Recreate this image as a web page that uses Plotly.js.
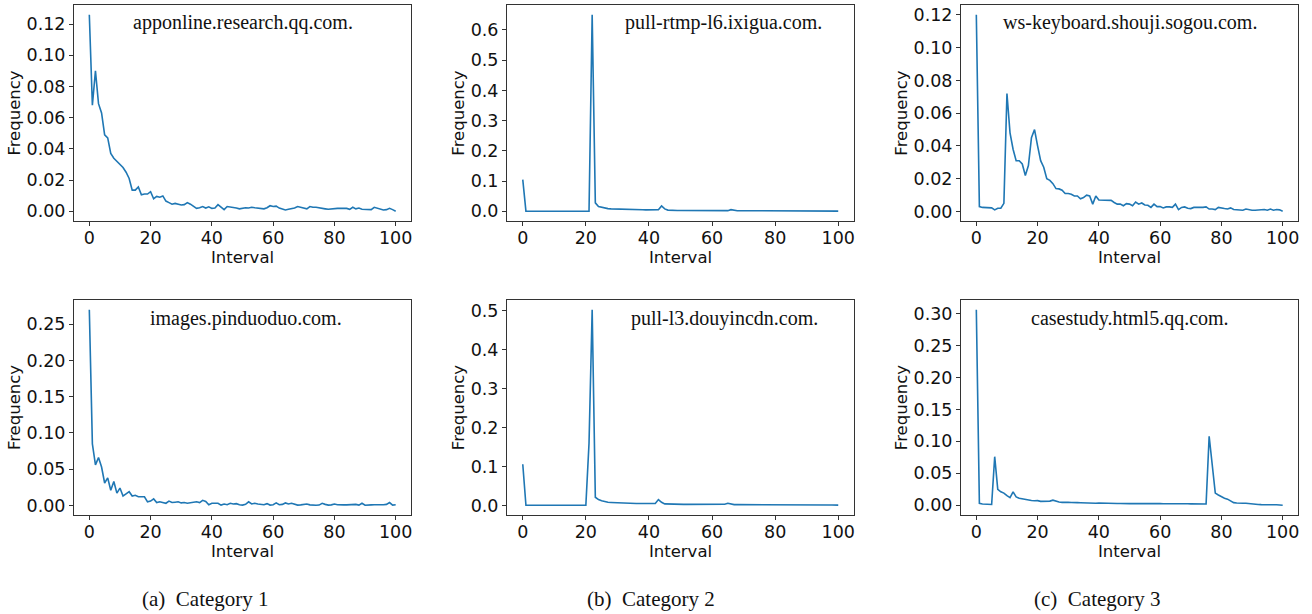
<!DOCTYPE html>
<html>
<head>
<meta charset="utf-8">
<script src="https://cdn.plot.ly/plotly-3.0.1.min.js"></script>
<style>
  html, body { margin: 0; padding: 0; background: #fff; }
  #chart { width: 1312px; height: 614px; }
</style>
</head>
<body>
<div id="chart"></div>
<script>
// ---------- data ----------
const interval = [0,1,2,3,4,5,6,7,8,9,10,11,12,13,14,15,16,17,18,19,20,21,22,23,24,25,26,27,28,29,30,31,32,33,34,35,36,37,38,39,40,41,42,43,44,45,46,47,48,49,50,51,52,53,54,55,56,57,58,59,60,61,62,63,64,65,66,67,68,69,70,71,72,73,74,75,76,77,78,79,80,81,82,83,84,85,86,87,88,89,90,91,92,93,94,95,96,97,98,99,100];

const domainNames = [
  "apponline.research.qq.com.",
  "pull-rtmp-l6.ixigua.com.",
  "ws-keyboard.shouji.sogou.com.",
  "images.pinduoduo.com.",
  "pull-l3.douyincdn.com.",
  "casestudy.html5.qq.com."
];

const captions = ["(a)  Category 1", "(b)  Category 2", "(c)  Category 3"];

const apponline = [
  0.126,0.068,0.090,0.069,0.063,0.049,0.047,0.037,0.034,0.032,
  0.030,0.028,0.025,0.021,0.0135,0.0135,0.0155,0.0105,0.011,0.011,
  0.0125,0.008,0.0095,0.009,0.0098,0.0065,0.0055,0.0045,0.005,0.0045,
  0.004,0.0042,0.0055,0.0045,0.003,0.0018,0.0022,0.003,0.002,0.0028,
  0.0018,0.002,0.0042,0.0025,0.001,0.003,0.0028,0.0022,0.002,0.0015,
  0.0018,0.0022,0.002,0.0025,0.0022,0.002,0.0018,0.0015,0.0022,0.0035,
  0.003,0.0032,0.002,0.0015,0.0008,0.0012,0.0015,0.002,0.003,0.0025,
  0.002,0.0015,0.003,0.0025,0.0025,0.002,0.0018,0.0015,0.0012,0.0015,
  0.0015,0.0018,0.0018,0.002,0.0018,0.0012,0.0025,0.0015,0.002,0.0012,
  0.0012,0.001,0.001,0.0025,0.002,0.0015,0.0008,0.001,0.0018,0.001,
  0.0
];

const ixigua = [
  0.105,
  0.0005,0.0005,0.0005,0.0005,0.0005,0.0005,0.0005,0.0005,0.0005,0.0005,
  0.0005,0.0005,0.0005,0.0005,0.0005,0.0005,0.0005,0.0005,0.0005,0.0005,0.0005,
  0.65,0.028,0.016,0.013,0.011,0.009,0.008,0.0075,
  0.007,0.0065,0.006,0.006,0.0055,0.0055,0.005,0.005,0.005,0.0048,
  0.0048,0.0045,0.0045,0.005,0.018,0.008,0.004,0.003,0.003,0.0028,
  0.0028,0.0027,0.0026,0.0026,0.0025,0.0025,0.0024,0.0024,0.0023,0.0023,
  0.0022,0.0022,0.0022,0.0021,0.0021,0.0022,0.0055,0.0025,0.002,0.002,
  0.002,0.0019,0.0019,0.0018,0.0018,0.0018,0.0017,0.0017,0.0016,0.0016,
  0.0016,0.0015,0.0015,0.0015,0.0014,0.0014,0.0014,0.0013,0.0013,0.0013,
  0.0012,0.0012,0.0012,0.0011,0.0011,0.0011,0.001,0.001,0.001,0.0009,
  0.0008
];

const sogou = [
  0.120,0.003,0.0025,0.0025,0.0024,0.0022,0.001,0.002,0.002,0.005,
  0.072,0.048,0.038,0.031,0.031,0.029,0.022,0.028,0.045,0.050,
  0.040,0.031,0.027,0.020,0.019,0.017,0.014,0.0138,0.013,0.011,
  0.011,0.0105,0.0095,0.0095,0.0078,0.0085,0.010,0.0095,0.0045,0.0095,
  0.007,0.007,0.0072,0.0072,0.0068,0.0055,0.0045,0.0045,0.0035,0.0048,
  0.0045,0.0035,0.0058,0.0045,0.0052,0.004,0.0038,0.0025,0.0045,0.003,
  0.003,0.0022,0.0028,0.0028,0.0025,0.0045,0.0012,0.0025,0.0028,0.002,
  0.0018,0.0025,0.0025,0.0022,0.0025,0.0028,0.0015,0.0015,0.0012,0.0025,
  0.002,0.0018,0.0015,0.0022,0.0012,0.001,0.0012,0.0008,0.0015,0.001,
  0.0008,0.0008,0.001,0.001,0.0012,0.0008,0.0015,0.0008,0.0012,0.001,
  0.0002
];

const pinduoduo = [
  0.270,0.085,0.056,0.066,0.053,0.031,0.038,0.021,0.033,0.017,
  0.024,0.013,0.016,0.019,0.013,0.014,0.012,0.0115,0.012,0.005,
  0.006,0.009,0.004,0.005,0.0045,0.003,0.006,0.004,0.0045,0.005,
  0.0035,0.004,0.003,0.004,0.0045,0.005,0.004,0.007,0.0055,0.001,
  0.003,0.0025,0.003,0.0005,0.002,0.001,0.003,0.002,0.0025,0.001,
  0.0005,0.0015,0.005,0.002,0.003,0.002,0.0015,0.001,0.0025,0.0005,
  0.001,0.0035,0.001,0.0015,0.0035,0.002,0.003,0.002,0.0005,0.0008,
  0.0015,0.002,0.0008,0.0003,0.0003,0.0005,0.003,0.0015,0.0005,0.0008,
  0.002,0.001,0.0005,0.0008,0.0008,0.001,0.001,0.0015,0.0005,0.003,
  0.0003,0.001,0.0008,0.001,0.0005,0.001,0.001,0.0015,0.004,0.0005,
  0.001
];

const douyincdn = [
  0.106,
  0.0005,0.0005,0.0005,0.0005,0.0005,0.0005,0.0005,0.0005,0.0005,0.0005,
  0.0005,0.0005,0.0005,0.0005,0.0005,0.0005,0.0005,0.0005,0.0005,0.0005,
  0.16,0.503,0.021,0.015,0.012,0.009,0.008,0.0075,0.007,
  0.0065,0.006,0.006,0.0055,0.0055,0.005,0.0048,0.0048,0.0045,0.0045,
  0.0045,0.0045,0.005,0.015,0.008,0.004,0.0035,0.0032,0.003,0.003,
  0.0028,0.0028,0.0027,0.0026,0.0025,0.0025,0.0024,0.0024,0.0023,0.0023,
  0.0022,0.0022,0.0022,0.0021,0.003,0.0055,0.003,0.002,0.002,0.0019,
  0.0019,0.0018,0.0018,0.0018,0.0017,0.0017,0.0016,0.0016,0.0016,0.0015,
  0.0015,0.0015,0.0014,0.0014,0.0014,0.0013,0.0013,0.0013,0.0012,0.0012,
  0.0012,0.0011,0.0011,0.0011,0.001,0.001,0.001,0.0009,0.0009,0.0009,
  0.0008
];

const casestudy = [
  0.306,0.003,0.002,0.0015,0.0012,0.0012,0.076,0.025,0.021,0.019,
  0.015,0.012,0.021,0.013,0.011,0.010,0.0085,0.0078,0.0075,0.007,
  0.0072,0.006,0.0062,0.0058,0.0065,0.008,0.006,0.005,0.0045,0.0048,
  0.0045,0.0042,0.0045,0.004,0.0038,0.0035,0.0038,0.0032,0.0035,0.003,
  0.0035,0.0032,0.003,0.0032,0.0028,0.003,0.0028,0.0027,0.003,0.0028,
  0.0025,0.0027,0.0028,0.0026,0.0028,0.0027,0.0025,0.0027,0.0026,0.0025,
  0.0025,0.0023,0.0024,0.0022,0.0024,0.0023,0.0022,0.0023,0.0021,0.0022,
  0.0021,0.0022,0.002,0.0021,0.002,0.002,0.108,0.064,0.019,0.016,
  0.013,0.011,0.0095,0.007,0.004,0.0035,0.003,0.003,0.0032,0.0025,
  0.0015,0.0012,0.0012,0.001,0.0012,0.001,0.001,0.0008,0.0008,0.0005,
  0.0
];

const xTicks = [0, 20, 40, 60, 80, 100];
const yTicks = [
  [0, 0.02, 0.04, 0.06, 0.08, 0.10, 0.12],
  [0, 0.1, 0.2, 0.3, 0.4, 0.5, 0.6],
  [0, 0.02, 0.04, 0.06, 0.08, 0.10, 0.12],
  [0, 0.05, 0.10, 0.15, 0.20, 0.25],
  [0, 0.1, 0.2, 0.3, 0.4, 0.5],
  [0, 0.05, 0.10, 0.15, 0.20, 0.25, 0.30]
];
const yFormats = [".2f", ".1f", ".2f", ".2f", ".1f", ".2f"];
const series = [apponline, ixigua, sogou, pinduoduo, douyincdn, casestudy];

// ---------- layout geometry (pixels) ----------
const W = 1312, H = 614;
const colPx = [[74, 411], [507, 854], [961, 1298]];
const rowPx = [[5, 221], [300, 515]];
const labelCenterX = [243, 723, 1130, 246, 724, 1130];
const labelCenterY = [22, 318];
const captionX = [205, 651, 1097];
const captionY = 599;

const sansFont = "DejaVu Sans, sans-serif";
const serifFont = "Liberation Serif, Times New Roman, serif";
const lineColor = "#1f77b4";
const frameColor = "#333333";

const traces = [];
const layout = {
  width: W, height: H,
  margin: {l: 0, r: 0, t: 0, b: 0},
  paper_bgcolor: "#ffffff",
  plot_bgcolor: "#ffffff",
  showlegend: false,
  annotations: [],
  font: {family: sansFont, color: "#111111"}
};

series.forEach((vals, i) => {
  const row = Math.floor(i / 3), col = i % 3;
  const suffix = i === 0 ? "" : String(i + 1);
  traces.push({
    type: "scatter", mode: "lines",
    x: interval, y: vals,
    xaxis: "x" + suffix, yaxis: "y" + suffix,
    line: {color: lineColor, width: 1.6},
    hoverinfo: "x+y"
  });
  const lo = Math.min(...vals), hi = Math.max(...vals);
  const pad = (hi - lo) * 0.05;
  const common = {
    ticks: "outside", ticklen: 4, tickwidth: 1, tickcolor: frameColor,
    showline: true, mirror: true, linecolor: frameColor, linewidth: 1,
    showgrid: false, zeroline: false,
    tickfont: {family: sansFont, size: 17.5, color: "#111111"}
  };
  layout["xaxis" + suffix] = Object.assign({}, common, {
    domain: [colPx[col][0] / W, colPx[col][1] / W],
    anchor: "y" + suffix,
    range: [-5, 105],
    tickvals: xTicks,
    ticktext: xTicks.map(String),
    ticklabelstandoff: -3,
    title: {text: "Interval", font: {family: sansFont, size: 16.5, color: "#111111"}, standoff: 0}
  });
  layout["yaxis" + suffix] = Object.assign({}, common, {
    domain: [1 - rowPx[row][1] / H, 1 - rowPx[row][0] / H],
    anchor: "x" + suffix,
    range: [lo - pad, hi + pad],
    tickvals: yTicks[i],
    tickformat: yFormats[i],
    title: {text: "Frequency", font: {family: sansFont, size: 16.5, color: "#111111"}, standoff: 1}
  });
  layout.annotations.push({
    text: domainNames[i],
    xref: "paper", yref: "paper",
    x: labelCenterX[i] / W, y: 1 - labelCenterY[row] / H,
    xanchor: "center", yanchor: "middle",
    showarrow: false,
    font: {family: serifFont, size: 20, color: "#111111"}
  });
});

captions.forEach((c, j) => {
  layout.annotations.push({
    text: c,
    xref: "paper", yref: "paper",
    x: captionX[j] / W, y: 1 - captionY / H,
    xanchor: "center", yanchor: "middle",
    showarrow: false,
    font: {family: serifFont, size: 21, color: "#111111"}
  });
});

Plotly.newPlot("chart", traces, layout, {displayModeBar: false, staticPlot: true});
</script>
</body>
</html>
